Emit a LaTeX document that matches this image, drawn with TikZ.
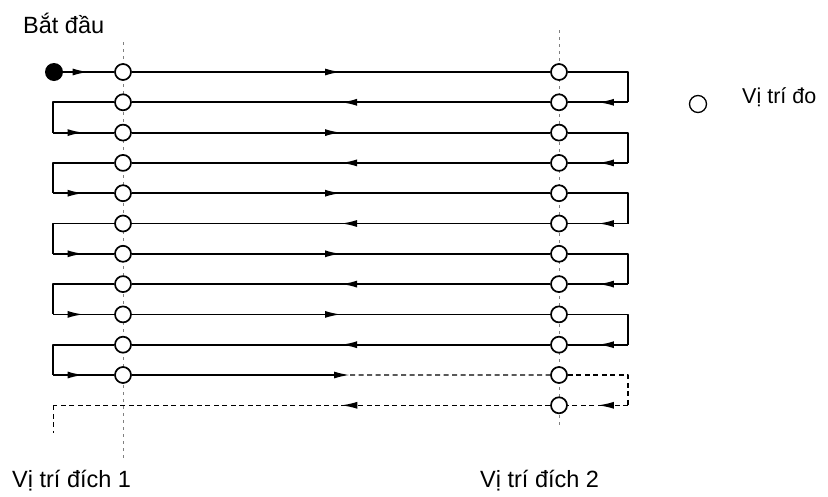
\documentclass[tikz,border=0pt]{standalone}
\usepackage{fontspec}
\setmainfont{Liberation Sans}
\usetikzlibrary{arrows.meta,decorations.markings}

\tikzset{
  meas/.style={circle,draw,line width=1.7pt,fill=white,minimum size=16pt,inner sep=0pt},
  startdot/.style={circle,fill=black,minimum size=18pt,inner sep=0pt},
  track/.style={line width=1.8pt},
  trackdash/.style={line width=1.4pt,dash pattern=on 5pt off 3.5pt},
  guide/.style={gray,line width=0.7pt,dash pattern=on 3pt off 4pt},
  midarrow/.style={postaction={decorate},decoration={markings,
      mark=at position #1 with {\arrow{Latex[length=16pt,width=7pt]}}}},
  lbl/.style={inner sep=0pt,anchor=base west,font=\fontsize{23.5}{28}\selectfont}
}

\begin{document}
\begin{tikzpicture}[x=1pt,y=-1pt,line join=round]
  \useasboundingbox (0,0) rectangle (828,496);

  % duong dong qua vi tri dich
  \draw[guide] (123,42) -- (123,460);
  \draw[guide] (559,30) -- (559,428);

  % cac vi tri do
  \node[startdot] (S) at (54,72) {};
  \foreach \k in {1,...,12}{
    \pgfmathsetmacro{\yy}{72+30.3*(\k-1)}
    \coordinate (CL\k) at (53,\yy);
    \coordinate (CR\k) at (628,\yy);
    \node[meas] (R\k) at (559,\yy) {};
  }
  \foreach \k in {1,...,11}{
    \pgfmathsetmacro{\yy}{72+30.3*(\k-1)}
    \node[meas] (L\k) at (123,\yy) {};
  }

  % hanh trinh
  \draw[track,midarrow=0.5] (S) -- (L1);
  \foreach \k in {1,3,5,7,9}{
    \pgfmathtruncatemacro{\n}{\k+1}
    \pgfmathtruncatemacro{\m}{\k+2}
    \draw[track,midarrow=0.5] (L\k) -- (R\k);
    \draw[track] (R\k) -- (CR\k) -- (CR\n);
    \draw[track,midarrow=0.5] (CR\n) -- (R\n);
    \draw[track,midarrow=0.5] (R\n) -- (L\n);
    \draw[track] (L\n) -- (CL\n) -- (CL\m);
    \draw[track,midarrow=0.5] (CL\m) -- (L\m);
  }

  % hang cuoi (net dut)
  \coordinate (M11) at (350,375);
  \coordinate (E) at (53,433);
  \draw[track,-{Latex[length=16pt,width=7pt]}] (L11) -- (M11);
  \draw[trackdash] (M11) -- (R11);
  \draw[trackdash] (R11) -- (CR11) -- (CR12);
  \draw[trackdash,midarrow=0.5] (CR12) -- (R12);
  \draw[trackdash,midarrow=0.42] (R12) -- (CL12);
  \draw[trackdash,line width=0.9pt] (CL12) -- (E);

  % chu thich
  \node[meas,minimum size=17pt,line width=1.3pt] (key) at (698,104) {};
  \node[lbl,font=\fontsize{21.5}{26}\selectfont] (keytxt) at (742,103) {Vị trí đo};
  \node[lbl] (start) at (23,33) {Bắt đầu};
  \node[lbl] (t1) at (12,487) {Vị trí đích 1};
  \node[lbl] (t2) at (480,487) {Vị trí đích 2};
\end{tikzpicture}
\end{document}
